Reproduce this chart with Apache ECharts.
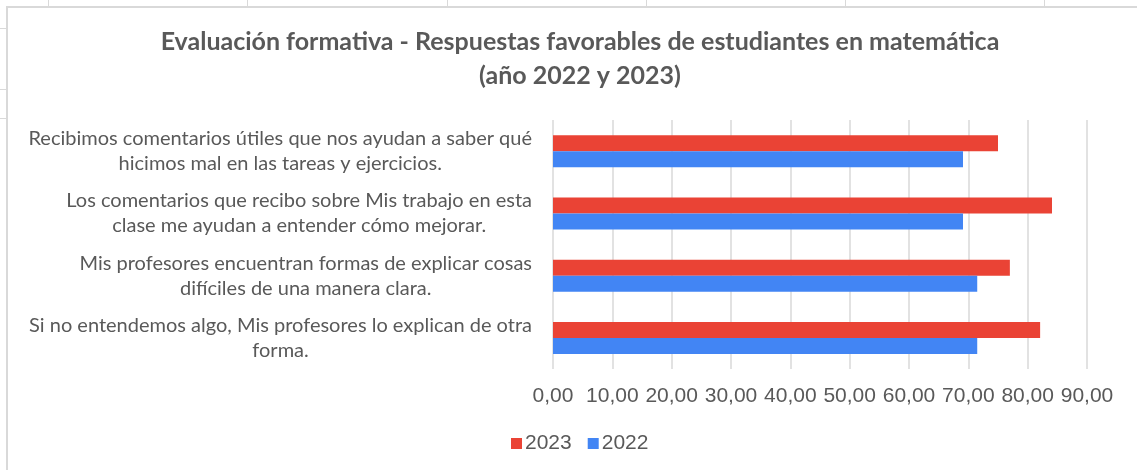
<!DOCTYPE html>
<html>
<head>
<meta charset="utf-8">
<script src="https://cdn.jsdelivr.net/npm/echarts@6/dist/echarts.min.js"></script>
<style>
html,body{margin:0;padding:0;background:#fff;}
#chart{width:1137px;height:470px;}
</style>
</head>
<body>
<div id="chart"></div>
<script>
// Categories listed bottom-to-top (category axis grows upward)
const categories = [
  'Si no entendemos algo, Mis profesores lo explican de otra\nforma.',
  'Mis profesores encuentran formas de explicar cosas\ndifíciles de una manera clara.',
  'Los comentarios que recibo sobre Mis trabajo en esta\nclase me ayudan a entender cómo mejorar.',
  'Recibimos comentarios útiles que nos ayudan a saber qué\nhicimos mal en las tareas y ejercicios.'
];
const values2022 = [71.5, 71.5, 69.1, 69.1];
const values2023 = [82.1, 77.0, 84.1, 75.0];
const titleText = 'Evaluación formativa - Respuestas favorables de estudiantes en matemática\n(año 2022 y 2023)';
const xMin = 0, xMax = 90, xStep = 10;

const grey = '#595959';
const chart = echarts.init(document.getElementById('chart'), null, {renderer: 'canvas'});

const topTicks = [48, 247, 447, 646, 845, 1044].map(x => ({
  type: 'line', shape: {x1: x + 0.5, y1: 0, x2: x + 0.5, y2: 6},
  style: {stroke: '#d9d9d9', lineWidth: 1}, silent: true
}));
const leftTicks = [28, 89, 118].map(y => ({
  type: 'line', shape: {x1: 0, y1: y + 0.5, x2: 6, y2: y + 0.5},
  style: {stroke: '#d9d9d9', lineWidth: 1}, silent: true
}));

chart.setOption({
  backgroundColor: '#ffffff',
  animation: false,
  title: {
    text: titleText,
    left: 575,
    textAlign: 'center',
    top: 20,
    textStyle: {
      fontFamily: 'Lato',
      fontWeight: 'bold',
      fontSize: 25,
      lineHeight: 34,
      color: grey
    }
  },
  graphic: [
    {type: 'polyline', shape: {points: [[7, 470], [7, 7], [1137, 7]]},
     style: {stroke: '#d9d9d9', lineWidth: 2, fill: null}, silent: true},
    ...topTicks, ...leftTicks
  ],
  legend: {
    data: ['2023', '2022'],
    left: 506,
    top: 428,
    itemWidth: 11,
    itemHeight: 11,
    itemGap: 16,
    icon: 'rect',
    textStyle: {fontFamily: 'Arial, Liberation Sans', fontSize: 21, color: grey, padding: [0, 0, 0, -2]}
  },
  grid: {left: 553, right: 50, top: 120, bottom: 101, containLabel: false},
  xAxis: {
    type: 'value',
    min: xMin, max: xMax, interval: xStep,
    axisLine: {show: false},
    axisTick: {show: false},
    axisLabel: {
      fontFamily: 'Arial, Liberation Sans',
      fontSize: 21,
      color: grey,
      margin: 17,
      formatter: v => v.toFixed(2).replace('.', ',')
    },
    splitLine: {show: true, lineStyle: {color: '#d9d9d9', width: 1.5}}
  },
  yAxis: {
    type: 'category',
    data: categories,
    axisLine: {show: false},
    axisTick: {show: false},
    axisLabel: {
      align: 'right',
      margin: 21,
      formatter: v => v.split('\n').map(l => '{c|' + l + '}').join('\n'),
      rich: {
        c: {align: 'center', fontFamily: 'Lato', fontSize: 20, lineHeight: 25, color: grey}
      }
    }
  },
  series: [
    {
      name: '2023', type: 'bar', data: values2023,
      barWidth: 16, barGap: '0%',
      itemStyle: {color: '#EA4335'}
    },
    {
      name: '2022', type: 'bar', data: values2022,
      barWidth: 16, barGap: '0%',
      itemStyle: {color: '#4285F4'}
    }
  ]
});
</script>
</body>
</html>
